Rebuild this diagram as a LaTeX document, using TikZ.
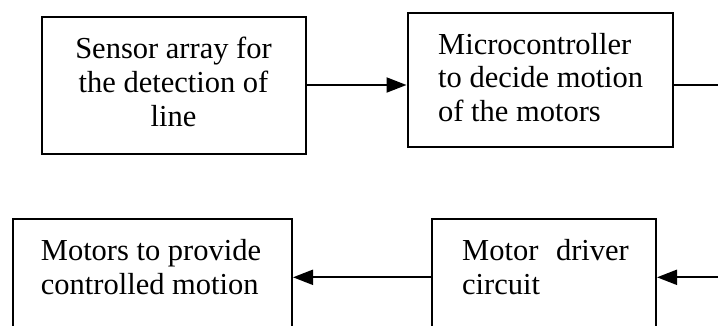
\documentclass[tikz,border=0pt]{standalone}
\usepackage{fontspec}
\setmainfont{Liberation Serif}
\usetikzlibrary{arrows.meta}
\begin{document}
\begin{tikzpicture}[x=1pt,y=-1pt,
  blk/.style={draw=black,line width=2pt,inner sep=0pt,fill=white},
  txt/.style={inner sep=0pt,font=\fontsize{30.5}{34}\selectfont},
  conn/.style={line width=2pt,-{Triangle[length=20pt,width=15pt]}},
  plain/.style={line width=2pt}]
\useasboundingbox (0,0) rectangle (718,325);
\clip (0,0) rectangle (718,325);
% boxes
\node[blk,minimum width=264pt,minimum height=137pt] (b1) at (173.5,85) {};
\node[blk,minimum width=265pt,minimum height=134pt] (b2) at (540,80) {};
\node[blk,minimum width=279pt,minimum height=140pt] (b3) at (152.5,289) {};
\node[blk,minimum width=224pt,minimum height=140pt] (b4) at (544,289) {};
% texts
\node[txt,anchor=base] (t1a) at (173.5,58.3) {Sensor array for};
\node[txt,anchor=base] (t1b) at (173.5,92.3) {the detection of};
\node[txt,anchor=base] (t1c) at (173.5,126.3) {line};
\node[txt,anchor=base west] (t2a) at (438,54.3) {Microcontroller};
\node[txt,anchor=base west] (t2b) at (438,87.7) {to decide motion};
\node[txt,anchor=base west] (t2c) at (438,121) {of the motors};
\node[txt,anchor=base west] (t3a) at (40.7,260.5) {Motors to provide};
\node[txt,anchor=base west] (t3b) at (40.7,294) {controlled motion};
\node[txt,anchor=base west] (t4a) at (462,260.5) {\makebox[166.7pt][s]{Motor driver}};
\node[txt,anchor=base west] (t4b) at (462,294) {circuit};
% free ends
\coordinate (r1) at (719,85);
\coordinate (r2) at (719,277.3);
% connectors
\draw[conn] (b1.east |- 0,85) -- (b2.west |- 0,85);
\draw[plain] (b2.east |- r1) -- (r1);
\draw[conn] (r2) -- (b4.east |- r2);
\draw[conn] (b4.west |- r2) -- (b3.east |- r2);
\end{tikzpicture}
\end{document}
